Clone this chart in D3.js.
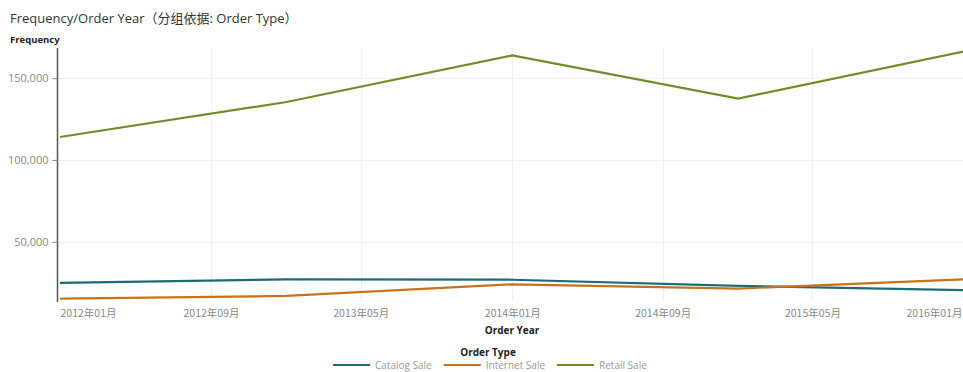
<!DOCTYPE html>
<html>
<head>
<meta charset="utf-8">
<script src="https://cdn.jsdelivr.net/npm/d3@7"></script>
<style>
  body { margin: 0; background: #fff; }
  svg { font-family: "Open Sans", "Noto Sans CJK SC", sans-serif; }
</style>
</head>
<body>
<svg id="chart" width="963" height="372"></svg>
<script>
// data
const years = ["2012-01", "2013-01", "2014-01", "2015-01", "2016-01"];
const catalogSale = [24900, 27000, 26800, 23000, 20400];
const internetSale = [15200, 16900, 24000, 21400, 27100];
const retailSale = [114000, 135400, 163900, 137500, 166300];
const seriesNames = ["Catalog Sale", "Internet Sale", "Retail Sale"];
const seriesColors = ["#1d6b73", "#c8721f", "#718c2b"];
const xTicks = ["2012-01", "2012-09", "2013-05", "2014-01", "2014-09", "2015-05", "2016-01"];
const yTicks = [50000, 100000, 150000];

const parse = d3.timeParse("%Y-%m");
const fmt = d3.timeFormat("%Y年%m月");
const svg = d3.select("#chart");

const plotLeft = 57, plotRight = 963, plotTop = 48, plotBottom = 301;

var x = d3.scaleTime()
    .domain([parse("2012-01"), parse("2016-01")])
    .range([60, 964]);
var y = d3.scaleLinear()
    .domain([13800, 168400])
    .range([plotBottom, plotTop]);

// title
svg.append("text").attr("x", 10).attr("y", 23)
    .attr("font-size", 13).attr("fill", "#333")
    .text("Frequency/Order Year（分组依据: Order Type）");
svg.append("text").attr("x", 10).attr("y", 43)
    .attr("font-size", 9.5).attr("font-weight", "bold").attr("fill", "#222")
    .text("Frequency");

// grid
svg.append("g").selectAll("line").data(yTicks).join("line")
    .attr("x1", plotLeft).attr("x2", plotRight)
    .attr("y1", d => Math.round(y(d)) + 0.5).attr("y2", d => Math.round(y(d)) + 0.5)
    .attr("stroke", "#f0f0f0");
svg.append("g").selectAll("line").data(xTicks.slice(1, -1)).join("line")
    .attr("x1", d => Math.round(x(parse(d))) + 0.5).attr("x2", d => Math.round(x(parse(d))) + 0.5)
    .attr("y1", plotTop).attr("y2", plotBottom)
    .attr("stroke", "#f0f0f0");

// y axis
var yAxis = svg.append("g")
    .attr("transform", `translate(${plotLeft + 0.5},0)`)
    .call(d3.axisLeft(y).tickValues(yTicks).tickFormat(d3.format(",")).tickSize(5).tickPadding(4));
yAxis.select(".domain").attr("stroke", "#555").attr("stroke-width", 1.5)
    .attr("d", `M0,${plotTop}V${plotBottom + 1}`);
yAxis.selectAll(".tick line").attr("stroke", "#888");
yAxis.selectAll(".tick text").attr("fill", "#888").attr("font-size", 11)
    .attr("font-family", "'Open Sans', sans-serif");

// x axis labels
var xAxis = svg.append("g")
    .attr("transform", `translate(0,${plotBottom})`)
    .call(d3.axisBottom(x).tickValues(xTicks.map(parse)).tickFormat(fmt).tickSize(0).tickPadding(9));
xAxis.select(".domain").remove();
xAxis.selectAll(".tick text").attr("fill", "#888").attr("font-size", 10.5)
    .attr("font-family", "'Noto Sans CJK SC', 'Open Sans', sans-serif")
    .attr("text-anchor", (d, i) => i === 0 ? "start" : (i === xTicks.length - 1 ? "end" : "middle"))
    .attr("dx", (d, i) => i === xTicks.length - 1 ? -2 : 0);

svg.append("text").attr("x", 512).attr("y", 334)
    .attr("text-anchor", "middle").attr("font-size", 10).attr("font-weight", "bold").attr("fill", "#222")
    .text("Order Year");

// lines
var line = d3.line()
    .x(d => x(d[0]))
    .y(d => y(d[1]));

[catalogSale, internetSale, retailSale].forEach((vals, i) => {
    svg.append("path")
        .datum(years.map((yr, j) => [parse(yr), vals[j]]))
        .attr("fill", "none")
        .attr("stroke", seriesColors[i])
        .attr("stroke-width", 2.2)
        .attr("d", line);
});

// legend
svg.append("text").attr("x", 488).attr("y", 356)
    .attr("text-anchor", "middle").attr("font-size", 10).attr("font-weight", "bold").attr("fill", "#222")
    .text("Order Type");

var legend = svg.append("g");
var lx = 0;
seriesNames.forEach((name, i) => {
    legend.append("line")
        .attr("x1", lx).attr("x2", lx + 37)
        .attr("y1", 0).attr("y2", 0)
        .attr("stroke", seriesColors[i]).attr("stroke-width", 2.2);
    var t = legend.append("text")
        .attr("x", lx + 42).attr("y", 3.5)
        .attr("font-size", 10).attr("fill", "#999")
        .text(name);
    lx += 42 + t.node().getComputedTextLength() + 12;
});
legend.attr("transform", `translate(${Math.round(490 - (lx - 12) / 2)},365)`);
</script>
</body>
</html>
